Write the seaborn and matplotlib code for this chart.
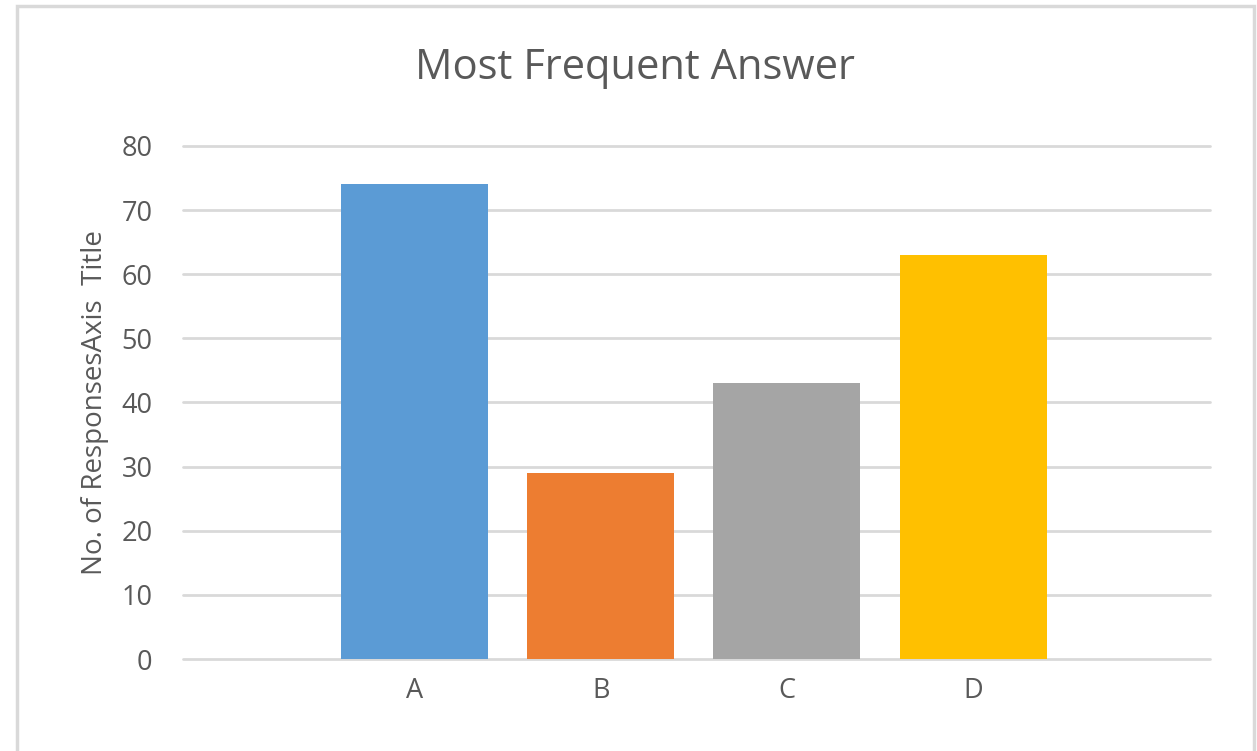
import pandas as pd
from matplotlib import pyplot as plt
from matplotlib.patches import Rectangle
import seaborn as sns

answers = ['A', 'B', 'C', 'D']
responses = [74, 29, 43, 63]
bar_colors = ['#5B9BD5', '#ED7D31', '#A5A5A5', '#FFC000']
yticks = [0, 10, 20, 30, 40, 50, 60, 70, 80]

df = pd.DataFrame({'answer': answers, 'responses': responses})

sns.set_style('white')
plt.rcParams['font.family'] = ['Open Sans', 'DejaVu Sans']
text_col = '#595959'
grid_col = '#D9D9D9'

fig = plt.figure(figsize=(12.57, 7.51), dpi=100)
ax = fig.add_axes([183 / 1257, 1 - 659 / 751, (1210 - 183) / 1257, (659 - 146) / 751])

# grey frame around the chart area
fig.patches.append(Rectangle((17 / 1257, -0.05), (1254 - 17) / 1257, 1.05 - 6 / 751,
                             transform=fig.transFigure, fill=False,
                             edgecolor=grid_col, linewidth=2.5))

sns.barplot(data=df, x='answer', y='responses', hue='answer', palette=bar_colors,
            legend=False, width=0.79, linewidth=0, saturation=1, ax=ax, zorder=3)

ax.set_ylim(0, 80)
ax.set_xlim(-1.243, 4.272)
ax.set_yticks(yticks)
ax.yaxis.grid(True, color=grid_col, linewidth=2)
for gl in ax.get_ygridlines():
    gl.set_clip_on(False)
ax.set_axisbelow(True)
for s in ax.spines.values():
    s.set_visible(False)
ax.tick_params(axis='both', length=0, labelsize=19.5, labelcolor=text_col)
ax.tick_params(axis='y', pad=22)
ax.tick_params(axis='x', pad=13)

ax.set_xlabel('')
ax.set_ylabel('No. of ResponsesAxis  Title', fontsize=20, color=text_col, labelpad=9)
fig.text(635 / 1257, 1 - 68 / 751, 'Most Frequent Answer', fontsize=30, color=text_col,
         ha='center', va='center')

plt.savefig('out.png', dpi=100, facecolor='white')
